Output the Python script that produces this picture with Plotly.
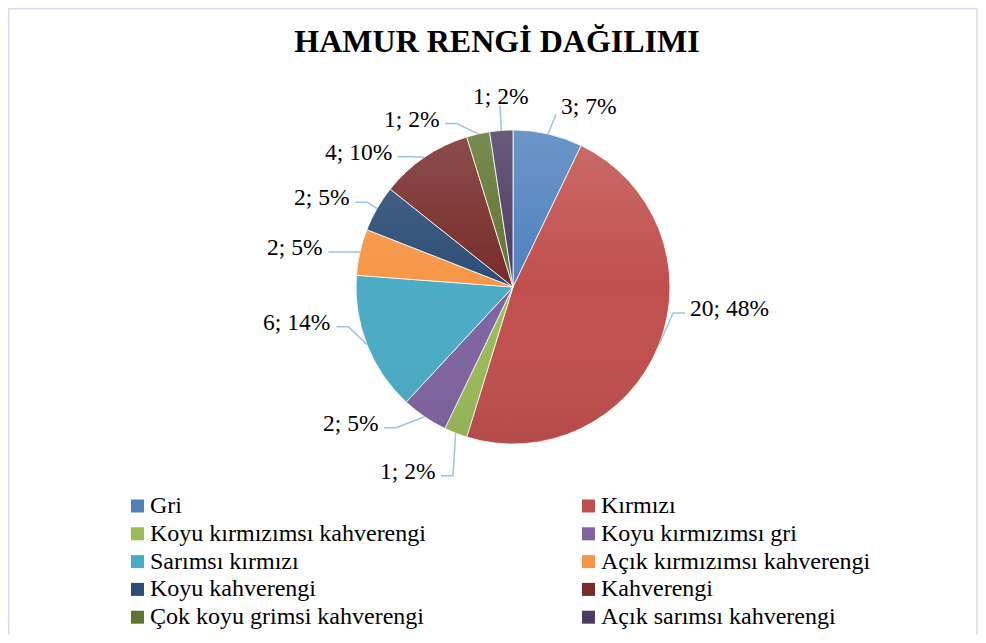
import math
import base64
import plotly.graph_objects as go

# ---- data ----
categories = ["Gri", "Kırmızı", "Koyu kırmızımsı kahverengi", "Koyu kırmızımsı gri",
              "Sarımsı kırmızı", "Açık kırmızımsı kahverengi", "Koyu kahverengi",
              "Kahverengi", "Çok koyu grimsi kahverengi", "Açık sarımsı kahverengi"]
counts = [3, 20, 1, 2, 6, 2, 2, 4, 1, 1]
title_text = "HAMUR RENGİ DAĞILIMI"

# ---- styles ----
colors = ["#4F81BD", "#C0504D", "#9BBB59", "#8064A2", "#4BACC6",
          "#F79646", "#2C4D75", "#772C2A", "#5F7530", "#4D3B62"]
# label attach point (polar, around pie centre): angle clockwise from top, distance in px
label_angle = [14.0, 98.6, 200.9, 222.5, 257.3, 280.7, 298.3, 318.5, 337.4, 355.9]
label_dist = [178, 174, 202, 191, 181, 188, 179, 174, 177, 182]
label_mode = ["bottom-left", "side", "side", "side", "side", "side", "side", "side", "side", "bottom-center"]

# page geometry (the figure div sits at an 8px body margin)
OFF = 8
FW, FH = 970, 627
CX, CY, R = 513, 287, 157
FONT = "Liberation Serif"
LINE_COLOR = "#9DC3E6"
LABEL_SIZE = 23.5
LEGEND_SIZE = 24
LEG_COL_X = [131, 582]     # marker left edge per column
LEG_ROW0, LEG_ROW_STEP = 506, 27.8
LEG_BOX = 13


def px(x):
    return (x - OFF) / FW


def py(y):
    return 1 - (y - OFF) / FH


fig = go.Figure()
fig.add_trace(go.Pie(
    labels=categories, values=counts, sort=False, direction="clockwise", rotation=0,
    marker=dict(colors=colors, line=dict(color="rgba(255,255,255,0.8)", width=1)),
    textinfo="none", hoverinfo="label+value+percent", showlegend=False,
    domain=dict(x=[px(CX - R), px(CX + R)], y=[py(CY + R), py(CY - R)]),
))

# subtle top-to-bottom gradient over the pie (Excel-like shading)
svg = (
    '<svg xmlns="http://www.w3.org/2000/svg" width="200" height="200" viewBox="0 0 200 200">'
    '<defs><linearGradient id="g" x1="0" y1="0" x2="0" y2="1">'
    '<stop offset="0" stop-color="#ffffff" stop-opacity="0.16"/>'
    '<stop offset="0.5" stop-color="#ffffff" stop-opacity="0.0"/>'
    '<stop offset="1" stop-color="#000000" stop-opacity="0.06"/>'
    '</linearGradient></defs><circle cx="100" cy="100" r="100" fill="url(#g)"/></svg>'
)
img_src = "data:image/svg+xml;base64," + base64.b64encode(svg.encode()).decode()

total = sum(counts)
annotations = []
shapes = []
cum = 0
for i, v in enumerate(counts):
    mid = (cum + v / 2) / total * 360
    cum += v
    pct = round(v / total * 100)
    text = f"{v}; {pct}%"
    ex = CX + R * math.sin(math.radians(mid))
    ey = CY - R * math.cos(math.radians(mid))
    ax = CX + label_dist[i] * math.sin(math.radians(label_angle[i]))
    ay = CY - label_dist[i] * math.cos(math.radians(label_angle[i]))
    mode = label_mode[i]
    lf = dict(family=FONT, size=LABEL_SIZE, color="black")
    if mode == "side":
        left = ax < CX
        elbow_x = ax + 12 if left else ax - 12
        path = f"M{px(ex)},{py(ey)} L{px(elbow_x)},{py(ay)} L{px(ax)},{py(ay)}"
        annotations.append(dict(
            x=px(ax - 4 if left else ax + 3), y=py(ay - 5), xref="paper", yref="paper",
            text=text, showarrow=False, xanchor="right" if left else "left", yanchor="middle", font=lf))
    else:
        path = f"M{px(ex)},{py(ey)} L{px(ax)},{py(ay)}"
        if mode == "bottom-left":
            annotations.append(dict(
                x=px(ax + 3), y=py(ay - 8), xref="paper", yref="paper", text=text, showarrow=False,
                xanchor="left", yanchor="middle", font=lf))
        else:
            annotations.append(dict(
                x=px(ax + 1), y=py(ay - 9), xref="paper", yref="paper", text=text, showarrow=False,
                xanchor="center", yanchor="middle", font=lf))
    shapes.append(dict(type="path", path=path, xref="paper", yref="paper",
                       line=dict(color=LINE_COLOR, width=1.5)))

# legend (two columns, row-wise)
for i, name in enumerate(categories):
    col, row = i % 2, i // 2
    yc = LEG_ROW0 + row * LEG_ROW_STEP
    x0 = LEG_COL_X[col]
    shapes.append(dict(type="rect", xref="paper", yref="paper",
                       x0=px(x0), x1=px(x0 + LEG_BOX), y0=py(yc + LEG_BOX / 2), y1=py(yc - LEG_BOX / 2),
                       fillcolor=colors[i], line=dict(width=0)))
    annotations.append(dict(x=px(x0 + LEG_BOX + 4), y=py(yc - 1), xref="paper", yref="paper",
                            text=name, showarrow=False, xanchor="left", yanchor="middle",
                            font=dict(family=FONT, size=LEGEND_SIZE, color="black")))

# chart-area border
shapes.append(dict(type="rect", xref="paper", yref="paper", x0=px(OFF + 0.75), x1=px(977),
                   y0=py(OFF + FH + 5), y1=py(OFF + 0.75),
                   line=dict(color="#D6DFEC", width=1.5), fillcolor="rgba(0,0,0,0)", layer="below"))

fig.update_layout(
    width=FW, height=FH, autosize=False,
    margin=dict(l=0, r=0, t=0, b=0, autoexpand=False),
    paper_bgcolor="white", plot_bgcolor="white",
    title=dict(text=f"<b>{title_text}</b>", x=px(497), xanchor="center", y=py(41), yanchor="middle",
               font=dict(family=FONT, size=32, color="black")),
    showlegend=False,
    annotations=annotations, shapes=shapes,
    images=[dict(source=img_src, xref="paper", yref="paper",
                 x=px(CX - R), y=py(CY - R), sizex=(2 * R) / FW, sizey=(2 * R) / FH,
                 xanchor="left", yanchor="top", sizing="stretch", layer="above")],
)

fig.write_html("out.html")
